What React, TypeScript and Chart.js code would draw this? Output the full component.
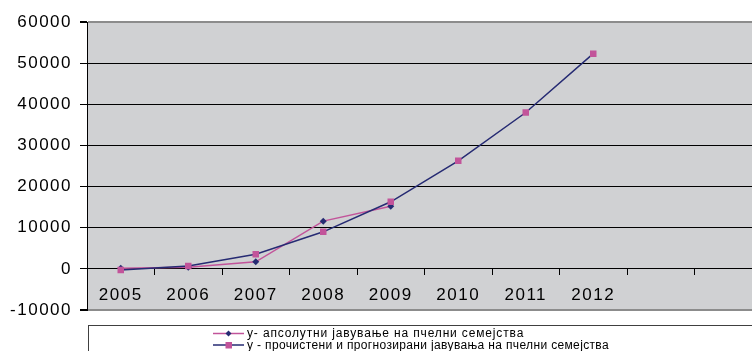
import React, { useEffect, useRef } from "react";
import { Chart, registerables } from "chart.js";

Chart.register(...registerables);

const categories = ["2005", "2006", "2007", "2008", "2009", "2010", "2011", "2012", "", ""];
const absoluteLabel = "у- апсолутни јавување на пчелни семејства";
const absoluteValues: (number | null)[] = [150, 400, 1700, 11600, 15200, null, null, null, null, null];
const smoothedLabel = "у - прочистени и прогнозирани јавувања на пчелни семејства";
const smoothedValues: (number | null)[] = [-300, 700, 3550, 9000, 16300, 26250, 38000, 52300, null, null];
const yMin = -10000;
const yMax = 60000;
const yStep = 10000;

const PINK = "#C2549A";
const NAVY = "#262B73";
const PLOT_BG = "#D0D1D3";
const FONT = '"Liberation Sans", Arial, sans-serif';

const W = 770;
const H = 351;

const bgPlugin = {
  id: "plotBg",
  beforeDraw(chart: any) {
    const { ctx, chartArea } = chart;
    ctx.save();
    ctx.fillStyle = "#ffffff";
    ctx.fillRect(0, 0, chart.width, chart.height);
    ctx.fillStyle = PLOT_BG;
    ctx.fillRect(chartArea.left, chartArea.top, chartArea.right - chartArea.left, chartArea.bottom - chartArea.top);
    ctx.restore();
    (ctx as any).letterSpacing = "1.5px";
  },
};

const legendPlugin = {
  id: "boxLegend",
  afterDraw(chart: any) {
    const ctx = chart.ctx;
    ctx.save();
    ctx.strokeStyle = "#404040";
    ctx.lineWidth = 1;
    ctx.strokeRect(88.5, 325.5, 720, 60);
    const markers = [
      { line: PINK, fill: NAVY, shape: "diamond", spacing: "0.85px" },
      { line: NAVY, fill: PINK, shape: "square", spacing: "0.35px" },
    ];
    chart.data.datasets.forEach((ds: any, i: number) => {
      const y = 333.5 + i * 11.5;
      const m = markers[i];
      ctx.strokeStyle = m.line;
      ctx.lineWidth = 1.5;
      ctx.beginPath();
      ctx.moveTo(213, y);
      ctx.lineTo(244, y);
      ctx.stroke();
      ctx.fillStyle = m.fill;
      ctx.beginPath();
      if (m.shape === "diamond") {
        ctx.moveTo(228.5, y - 3);
        ctx.lineTo(231.5, y);
        ctx.lineTo(228.5, y + 3);
        ctx.lineTo(225.5, y);
        ctx.closePath();
      } else {
        ctx.rect(225.5, y - 3, 6.5, 6.5);
      }
      ctx.fill();
      (ctx as any).letterSpacing = m.spacing;
      ctx.fillStyle = "#000";
      ctx.font = `12px ${FONT}`;
      ctx.textBaseline = "middle";
      ctx.textAlign = "left";
      ctx.fillText(ds.label, 247, y + 0.5);
    });
    ctx.restore();
  },
};

export default function App() {
  const ref = useRef<HTMLCanvasElement | null>(null);

  useEffect(() => {
    if (!ref.current) return;
    const chart = new Chart(ref.current, {
      type: "line",
      data: {
        labels: categories,
        datasets: [
          {
            label: absoluteLabel,
            data: absoluteValues,
            borderColor: PINK,
            borderWidth: 1.5,
            backgroundColor: NAVY,
            pointStyle: "rectRot",
            pointRadius: 3.5,
            pointBackgroundColor: NAVY,
            pointBorderColor: NAVY,
            pointBorderWidth: 0,
            tension: 0,
            order: 1,
          },
          {
            label: smoothedLabel,
            data: smoothedValues,
            borderColor: NAVY,
            borderWidth: 1.5,
            backgroundColor: PINK,
            pointStyle: "rect",
            pointRadius: 4.6,
            pointBackgroundColor: PINK,
            pointBorderColor: PINK,
            pointBorderWidth: 0,
            tension: 0,
            order: 0,
          },
        ],
      },
      options: {
        responsive: false,
        animation: false,
        devicePixelRatio: 1,
        layout: { padding: { left: 0, top: 22, right: W - 762, bottom: H - 310 } },
        plugins: { legend: { display: false }, tooltip: { enabled: false } },
        scales: {
          x: {
            type: "category",
            position: { y: 0 } as any,
            offset: true,
            grid: {
              drawOnChartArea: false,
              drawTicks: true,
              tickLength: 6,
              color: "#000",
              offset: true,
            },
            border: { display: false },
            ticks: {
              color: "#000",
              font: { family: FONT, size: 17 },
              padding: 10,
              autoSkip: false,
              maxRotation: 0,
            },
            afterFit(scale: any) {
              scale.height = 0;
            },
          },
          y: {
            min: yMin,
            max: yMax,
            ticks: {
              stepSize: yStep,
              color: "#000",
              font: { family: FONT, size: 17 },
              padding: 8,
              callback: (v: any) => String(v),
            },
            grid: {
              color: (c: any) => (c.tick && (c.tick.value === yMin || c.tick.value === yMax) ? "#8c8c8c" : "#000"),
              lineWidth: (c: any) => (c.tick && (c.tick.value === yMin || c.tick.value === yMax) ? 2 : 1),
              tickColor: "#000",
              tickLength: 7,
            },
            border: { display: true, color: "#000", width: 1 },
            afterFit(scale: any) {
              scale.width = 87;
            },
          },
        },
      },
      plugins: [bgPlugin, legendPlugin],
    });
    return () => chart.destroy();
  }, []);

  return (
    <div style={{ position: "fixed", left: 0, top: 0, width: 752, height: 351, overflow: "hidden", background: "#fff" }}>
      <canvas ref={ref} width={W} height={H} style={{ display: "block", width: W, height: H }} />
    </div>
  );
}
